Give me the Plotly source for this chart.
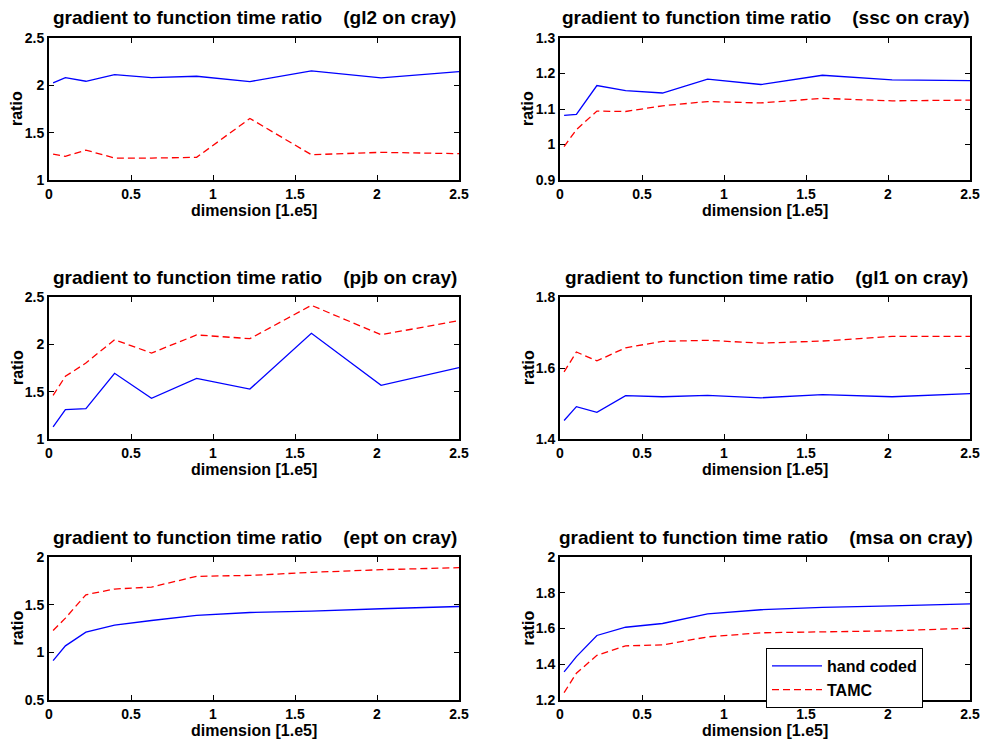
import plotly.graph_objects as go

# dimension [1.e5]
dimension = [0.025, 0.1, 0.225, 0.4, 0.625, 0.9, 1.225, 1.6, 2.025, 2.5]

gl2_hand = [2.026, 2.082, 2.043, 2.114, 2.082, 2.096, 2.040, 2.152, 2.079, 2.145]
gl2_tamc = [1.274, 1.250, 1.316, 1.232, 1.232, 1.239, 1.650, 1.267, 1.292, 1.278]

ssc_hand = [1.082, 1.085, 1.166, 1.152, 1.145, 1.184, 1.169, 1.195, 1.182, 1.180]
ssc_tamc = [0.994, 1.042, 1.094, 1.093, 1.109, 1.121, 1.117, 1.130, 1.123, 1.125]

pjb_hand = [1.127, 1.310, 1.320, 1.694, 1.430, 1.641, 1.528, 2.116, 1.567, 1.754]
pjb_tamc = [1.461, 1.662, 1.803, 2.049, 1.908, 2.099, 2.060, 2.412, 2.102, 2.250]

gl1_hand = [1.452, 1.491, 1.475, 1.522, 1.519, 1.523, 1.516, 1.525, 1.519, 1.528]
gl1_tamc = [1.589, 1.645, 1.620, 1.657, 1.675, 1.678, 1.670, 1.676, 1.689, 1.689]

ept_hand = [0.913, 1.068, 1.211, 1.285, 1.334, 1.387, 1.418, 1.432, 1.457, 1.481]
ept_tamc = [1.229, 1.359, 1.604, 1.664, 1.685, 1.797, 1.807, 1.839, 1.867, 1.888]

msa_hand = [1.357, 1.443, 1.561, 1.607, 1.628, 1.682, 1.705, 1.718, 1.727, 1.738]
msa_tamc = [1.241, 1.350, 1.450, 1.503, 1.508, 1.553, 1.576, 1.581, 1.587, 1.602]

cases = ["gl2", "ssc", "pjb", "gl1", "ept", "msa"]
hand = [gl2_hand, ssc_hand, pjb_hand, gl1_hand, ept_hand, msa_hand]
tamc = [gl2_tamc, ssc_tamc, pjb_tamc, gl1_tamc, ept_tamc, msa_tamc]
y_ranges = [[1, 2.5], [0.9, 1.3], [1, 2.5], [1.4, 1.8], [0.5, 2], [1.2, 2]]
y_dticks = [0.5, 0.1, 0.5, 0.2, 0.5, 0.2]
x_range = [0, 2.5]
x_dtick = 0.5
series_names = ["hand coded", "TAMC"]

W, H = 981, 740
FONT = "Liberation Sans, Arial, Helvetica, sans-serif"


def px_x(p):
    return p / W


def px_y(p):
    return 1 - p / H


# pixel geometry of the panels
col_px = [(49, 459), (560, 970)]
row_px = [(38, 180), (297, 439), (557, 700)]

fig = go.Figure()
annotations = []

for i, case in enumerate(cases):
    r, c = divmod(i, 2)
    n = i + 1
    xa = "x" if n == 1 else f"x{n}"
    ya = "y" if n == 1 else f"y{n}"
    x0, x1 = col_px[c]
    t0, t1 = row_px[r]
    dom_x = [px_x(x0), px_x(x1)]
    dom_y = [px_y(t1), px_y(t0)]

    fig.add_trace(go.Scatter(
        x=dimension, y=hand[i], mode="lines", name=series_names[0],
        line=dict(color="#0000ff", width=1.3),
        xaxis=xa, yaxis=ya, showlegend=(i == 5), legendrank=1))
    fig.add_trace(go.Scatter(
        x=dimension, y=tamc[i], mode="lines", name=series_names[1],
        line=dict(color="#ff0000", width=1.3, dash="7px,4px"),
        xaxis=xa, yaxis=ya, showlegend=(i == 5), legendrank=2))

    axcommon = dict(
        showgrid=False, zeroline=False, showline=True, linecolor="black",
        linewidth=2, mirror="ticks", ticks="inside", ticklen=5, tickwidth=1,
        tickcolor="black", automargin=False, ticklabeloverflow="allow",
        tickfont=dict(family=FONT, size=14, color="black", weight="bold"),
    )
    fig.update_layout(**{
        ("xaxis" if n == 1 else f"xaxis{n}"): dict(
            domain=dom_x, range=x_range, dtick=x_dtick, tick0=0,
            anchor=ya, **axcommon),
        ("yaxis" if n == 1 else f"yaxis{n}"): dict(
            domain=dom_y, range=y_ranges[i], dtick=y_dticks[i],
            tick0=y_ranges[i][0], anchor=xa, **axcommon),
    })

    cx = (x0 + x1) / 2
    # panel title
    annotations.append(dict(
        text="gradient to function time ratio\u00a0\u00a0\u00a0\u00a0(" + case + " on cray)",
        x=px_x(cx + 1), y=px_y(t0 - 20), xref="paper", yref="paper",
        xanchor="center", yanchor="middle", showarrow=False,
        font=dict(family=FONT, size=19, color="black", weight="bold")))
    # x-axis title
    annotations.append(dict(
        text="dimension [1.e5]",
        x=px_x(cx), y=px_y(t1 + 30), xref="paper", yref="paper",
        xanchor="center", yanchor="middle", showarrow=False,
        font=dict(family=FONT, size=16, color="black", weight="bold")))
    # y-axis title
    annotations.append(dict(
        text="ratio", textangle=-90,
        x=px_x(x0 - 32), y=px_y((t0 + t1) / 2), xref="paper", yref="paper",
        xanchor="center", yanchor="middle", showarrow=False,
        font=dict(family=FONT, size=16, color="black", weight="bold")))

fig.update_layout(
    width=W, height=H,
    margin=dict(l=0, r=0, t=0, b=0, autoexpand=False),
    paper_bgcolor="white", plot_bgcolor="white",
    annotations=annotations,
    showlegend=True,
    legend=dict(
        x=px_x(766), y=px_y(648), xanchor="left", yanchor="top",
        bgcolor="white", bordercolor="black", borderwidth=1,
        font=dict(family=FONT, size=16, color="black", weight="bold"),
        tracegroupgap=0, itemwidth=50,
        entrywidth=106, entrywidthmode="pixels",
    ),
)

fig.write_html("out.html", config={"displayModeBar": False},
               post_script="document.body.style.margin='0';")
